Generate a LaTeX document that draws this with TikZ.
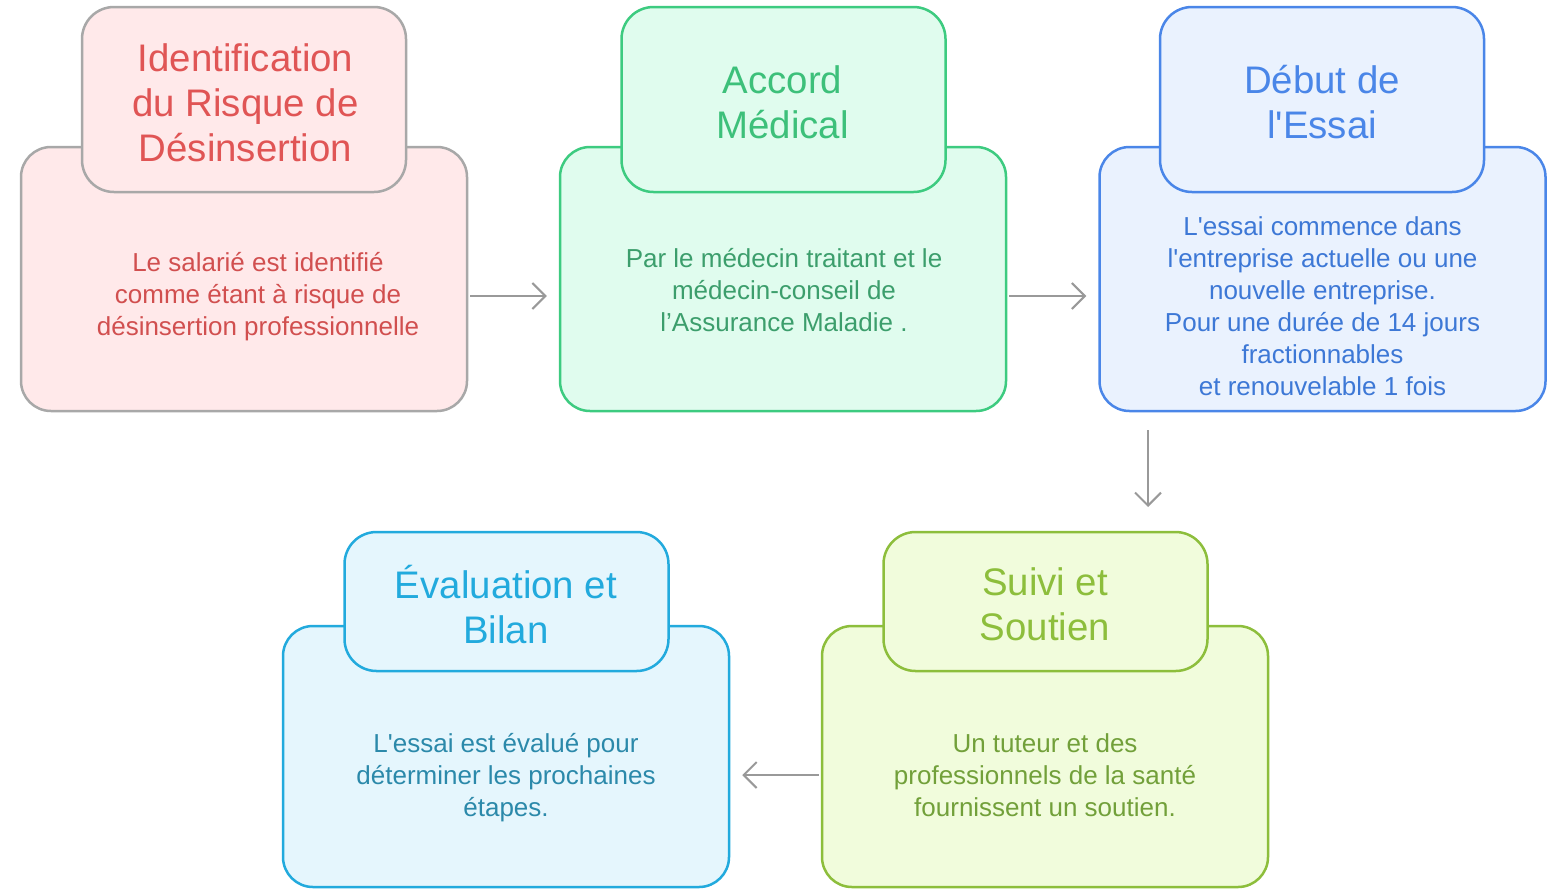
\documentclass[tikz,border=0pt]{standalone}
\usepackage{fontspec}
\newfontfamily\lib{Liberation Sans}
\usetikzlibrary{arrows.meta}
\definecolor{pinkfill}{HTML}{FFE9EA}
\definecolor{graystroke}{HTML}{A8A8A8}
\definecolor{redtitle}{HTML}{E05555}
\definecolor{redbody}{HTML}{D14F4F}
\definecolor{greenfill}{HTML}{E0FCEE}
\definecolor{greenstroke}{HTML}{3DCB80}
\definecolor{greentitle}{HTML}{3DC07A}
\definecolor{greenbody}{HTML}{3C9E6C}
\definecolor{bluefill}{HTML}{EAF2FE}
\definecolor{bluestroke}{HTML}{4A86E8}
\definecolor{bluetitle}{HTML}{4A86E8}
\definecolor{bluebody}{HTML}{3D78D6}
\definecolor{cyanfill}{HTML}{E5F6FD}
\definecolor{cyanstroke}{HTML}{22AADD}
\definecolor{cyantitle}{HTML}{22AADD}
\definecolor{cyanbody}{HTML}{2B89AA}
\definecolor{limefill}{HTML}{F1FCDC}
\definecolor{limestroke}{HTML}{8DBE3C}
\definecolor{limetitle}{HTML}{8DBE3C}
\definecolor{limebody}{HTML}{72A03A}
\definecolor{arrowgray}{HTML}{999999}
\begin{document}
\begin{tikzpicture}[x=0.5pt,y=-0.5pt,
  bigbox/.style={draw, line width=1.25pt, rounded corners=15pt, minimum width=223pt, minimum height=132pt, inner sep=0pt},
  lowbox/.style={bigbox, minimum height=130.5pt},
  ttlbox/.style={draw, line width=1.25pt, rounded corners=16pt, minimum width=162pt, minimum height=92.5pt, inner sep=0pt},
  lowttl/.style={ttlbox, minimum height=69.5pt},
  ttltxt/.style={align=center, inner sep=0pt, font=\lib\fontsize{19.2}{22.5}\selectfont},
  bodytxt/.style={align=center, inner sep=0pt, font=\lib\fontsize{13}{16}\selectfont},
  conn/.style={draw=arrowgray, line width=1pt, -{Straight Barb[length=6.5pt,width=13pt]}}]
\useasboundingbox (0,0) rectangle (1556,889);
% box 1
\node[bigbox, draw=graystroke, fill=pinkfill] (b1) at (244,279) {};
\node[ttlbox, draw=graystroke, fill=pinkfill] (t1) at (244,99.5) {};
\node[ttltxt, text=redtitle] (y1) at (245.5,102.5) {Identification\\du Risque de\\Désinsertion};
\node[bodytxt, text=redbody] (x1) at (258,297) {Le salarié est identifié\\comme étant à risque de\\désinsertion professionnelle};
% box 2
\node[bigbox, draw=greenstroke, fill=greenfill] (b2) at (783,279) {};
\node[ttlbox, draw=greenstroke, fill=greenfill] (t2) at (783.5,99.5) {};
\node[ttltxt, text=greentitle] (y2) at (782.5,102.5) {Accord\\Médical};
\node[bodytxt, text=greenbody] (x2) at (784,290) {Par le médecin traitant et le\\médecin-conseil de\\l’Assurance Maladie .};
% box 3
\node[bigbox, draw=bluestroke, fill=bluefill] (b3) at (1322.5,279) {};
\node[ttlbox, draw=bluestroke, fill=bluefill] (t3) at (1322,99.5) {};
\node[ttltxt, text=bluetitle] (y3) at (1322,102.5) {Début de\\l'Essai};
\node[bodytxt, text=bluebody] (x3) at (1322.5,306) {L'essai commence dans\\l'entreprise actuelle ou une\\nouvelle entreprise.\\Pour une durée de 14 jours\\fractionnables\\et renouvelable 1 fois};
% box 4
\node[lowbox, draw=cyanstroke, fill=cyanfill] (b4) at (506,756.5) {};
\node[lowttl, draw=cyanstroke, fill=cyanfill] (t4) at (506.5,601.5) {};
\node[ttltxt, text=cyantitle] (y4) at (506,604.5) {Évaluation et\\Bilan};
\node[bodytxt, text=cyanbody] (x4) at (506,778) {L'essai est évalué pour\\déterminer les prochaines\\étapes.};
% box 5
\node[lowbox, draw=limestroke, fill=limefill] (b5) at (1045,756.5) {};
\node[lowttl, draw=limestroke, fill=limefill] (t5) at (1045.5,601.5) {};
\node[ttltxt, text=limetitle] (y5) at (1045,604.5) {Suivi et\\Soutien};
\node[bodytxt, text=limebody] (x5) at (1045,775) {Un tuteur et des\\professionnels de la santé\\fournissent un soutien.};
% connectors
\draw[conn] ([xshift=1pt,yshift=-8.5pt]b1.east) -- ([xshift=-6pt,yshift=-8.5pt]b2.west);
\draw[conn] ([xshift=1pt,yshift=-8.5pt]b2.east) -- ([xshift=-6pt,yshift=-8.5pt]b3.west);
\coordinate (d1) at (1148,430);
\coordinate (d2) at (1148,507);
\draw[conn] (d1) -- (d2);
\draw[conn] ([xshift=-1pt,yshift=-9.25pt]b5.west) -- ([xshift=6pt,yshift=-9.25pt]b4.east);
\end{tikzpicture}
\end{document}
